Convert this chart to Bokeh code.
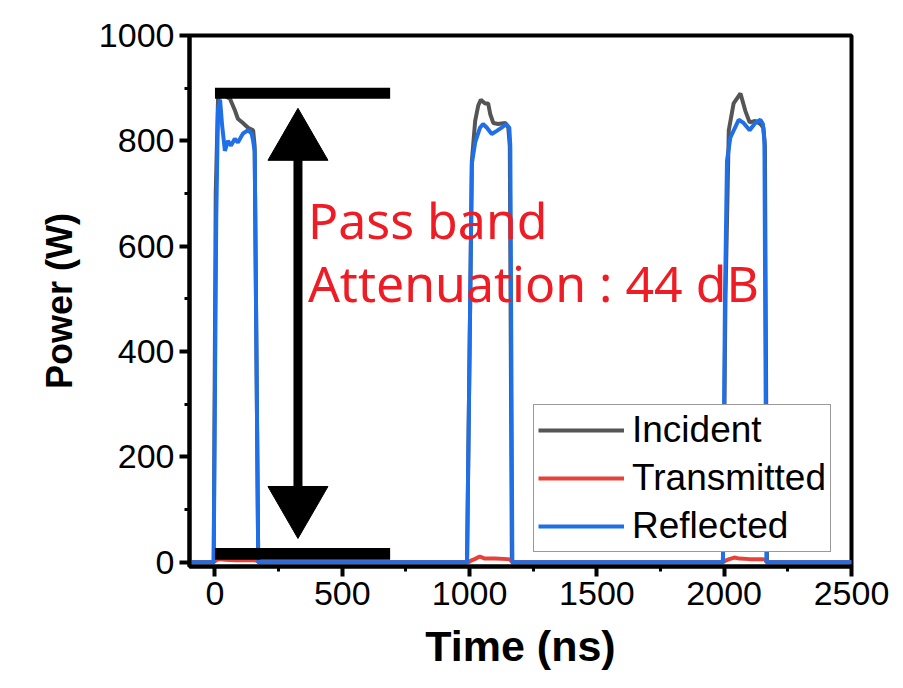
from bokeh.plotting import figure
from bokeh.models import Range1d, FixedTicker, Legend, LegendItem
from bokeh.core.properties import value
from bokeh.embed import file_html
from bokeh.resources import INLINE

# ---------------- data ----------------
incident_t = [-100, -5, 3, 12, 30, 59, 79, 90, 110, 130, 150, 156, 170,
              990, 1000, 1009, 1022, 1034, 1044, 1061, 1073, 1081, 1093, 1112, 1140, 1152, 1158, 1166,
              1995, 2005, 2018, 2037, 2064, 2083, 2100, 2122, 2142, 2154, 2160, 2168, 2500]
incident_w = [0, 0, 700, 880, 888, 880, 857, 842, 834, 825, 820, 790, 0,
              0, 400, 762, 838, 867, 878, 871, 871, 851, 834, 832, 834, 825, 790, 0,
              0, 500, 820, 871, 890, 857, 835, 838, 832, 825, 790, 0, 0]

reflected_t = [-100, -5, 5, 12, 20, 28, 39, 51, 63, 78, 90, 110, 130, 144, 150, 156, 170,
               990, 1000, 1009, 1022, 1041, 1053, 1068, 1087, 1107, 1126, 1144, 1156, 1160, 1168,
               1995, 2003, 2011, 2024, 2057, 2076, 2100, 2122, 2142, 2152, 2158, 2166, 2500]
reflected_w = [0, 0, 650, 860, 878, 830, 781, 800, 791, 804, 797, 814, 820, 814, 800, 780, 0,
               0, 400, 757, 797, 825, 832, 825, 813, 819, 825, 832, 825, 790, 0,
               0, 500, 762, 806, 840, 834, 820, 834, 840, 832, 800, 0, 0]

transmitted_t = [-100, -5, 5, 20, 40, 80, 150, 165, 172,
                 995, 1005, 1020, 1040, 1060, 1100, 1150, 1160, 1168,
                 1995, 2005, 2020, 2040, 2060, 2100, 2150, 2160, 2168, 2500]
transmitted_w = [0, 0, 4, 6, 5, 4, 4, 3, 0,
                 0, 3, 6, 11, 7, 7, 6, 5, 0,
                 0, 3, 6, 9, 7, 6, 6, 5, 0, 0]

series_names = ["Incident", "Transmitted", "Reflected"]
series_colors = ["#555555", "#E8413A", "#1F6FE8"]

x_ticks = [0, 500, 1000, 1500, 2000, 2500]
x_minor = [250, 750, 1250, 1750, 2250]
y_ticks = [0, 200, 400, 600, 800, 1000]
y_minor = [100, 300, 500, 700, 900]

# annotation geometry (data units)
bar_left = [0, 0]
bar_right = [688, 688]
bar_bottom = [880, 5]
bar_top = [901, 27]
arrow_x = 326
arrow_up_y = 796      # centre of upper arrow head
arrow_down_y = 111    # centre of lower arrow head
text_x = [365, 365]
text_y = [649, 531]
text_lines = ["Pass band", "Attenuation : 44 dB"]

# ---------------- figure ----------------
p = figure(width=895, height=680,
           x_range=Range1d(-100, 2500), y_range=Range1d(-8, 1000),
           output_backend="svg", toolbar_location=None,
           min_border_left=189, min_border_right=44,
           min_border_top=35, min_border_bottom=114)

p.xgrid.visible = False
p.ygrid.visible = False
p.outline_line_color = "black"
p.outline_line_width = 4

xax = p.below[0]
yax = p.left[0]
xax.ticker = FixedTicker(ticks=x_ticks, minor_ticks=x_minor)
yax.ticker = FixedTicker(ticks=y_ticks, minor_ticks=y_minor)

for ax in (xax, yax):
    ax.axis_line_width = 4
    ax.axis_line_color = "black"
    ax.major_tick_line_width = 4
    ax.major_tick_line_color = "black"
    ax.major_tick_out = 10
    ax.major_tick_in = 0
    ax.minor_tick_line_width = 3
    ax.minor_tick_line_color = "black"
    ax.minor_tick_out = 5
    ax.major_label_text_font_size = "34px"
    ax.major_label_text_color = "black"
    ax.axis_label_text_font_style = "bold"
    ax.axis_label_text_color = "black"

xax.axis_label = "Time (ns)"
yax.axis_label = "Power (W)"
xax.axis_label_text_font_size = "43px"
yax.axis_label_text_font_size = "36px"
xax.axis_label_standoff = 14
yax.axis_label_standoff = 16

# data lines: incident, transmitted, reflected (reflected on top)
r_inc = p.line(incident_t, incident_w, line_color=series_colors[0], line_width=4)
r_tra = p.line(transmitted_t, transmitted_w, line_color=series_colors[1], line_width=4)
r_ref = p.line(reflected_t, reflected_w, line_color=series_colors[2], line_width=4)

# black bars
p.quad(left=bar_left, right=bar_right, bottom=bar_bottom, top=bar_top,
       fill_color="black", line_color="black", line_width=0)

# double arrow: shaft + two triangular heads
p.segment(x0=[arrow_x], y0=[arrow_down_y], x1=[arrow_x], y1=[arrow_up_y],
          line_color="black", line_width=9)
p.scatter(x=[arrow_x], y=[arrow_up_y], marker="triangle", size=60,
          fill_color="black", line_color="black", line_width=1)
p.scatter(x=[arrow_x], y=[arrow_down_y], marker="inverted_triangle", size=60,
          fill_color="black", line_color="black", line_width=1)

# red text
p.text(x=text_x, y=text_y, text=text_lines, text_font=value("Noto Sans"),
       text_font_size="50px", text_color="#EE1C25", text_baseline="alphabetic",
       text_align="left")

legend = Legend(items=[LegendItem(label=series_names[0], renderers=[r_inc]),
                       LegendItem(label=series_names[1], renderers=[r_tra]),
                       LegendItem(label=series_names[2], renderers=[r_ref])],
                location=(344, 14),
                label_text_font="Liberation Sans", label_text_font_size="37px",
                label_text_color="black",
                glyph_width=86, glyph_height=40, label_height=40,
                spacing=6, padding=4, margin=0, label_standoff=8,
                border_line_color="#333333", border_line_width=1.5,
                background_fill_color="white", background_fill_alpha=1)
p.add_layout(legend)

open("out.html", "w").write(file_html(p, INLINE))
